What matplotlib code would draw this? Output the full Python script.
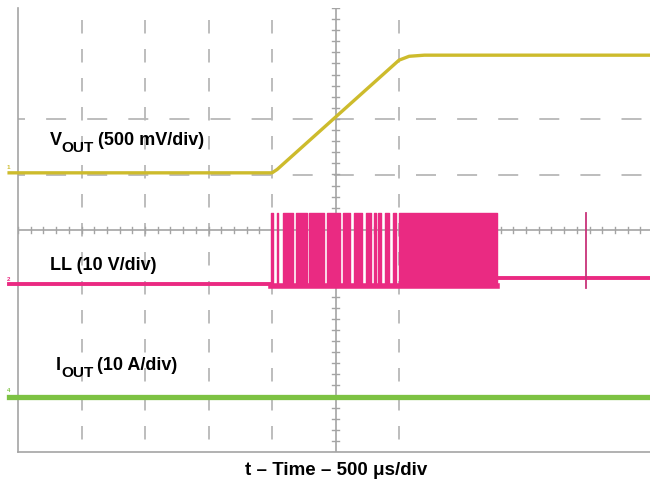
import matplotlib
matplotlib.use('Agg')
import matplotlib.pyplot as plt
import matplotlib.transforms as mtransforms
import numpy as np

plt.rcParams['font.family'] = ['Liberation Sans', 'DejaVu Sans']
plt.rcParams['lines.scale_dashes'] = False

# scope settings: 500 us/div, 10 x 8 divisions
t_div = 500.0
# channel scale (units/div) and position (div)
vout_scale, vout_pos = 0.5, 1.03
ll_scale, ll_pos = 10.0, -1.0
iout_scale, iout_pos = 10.0, -3.0

# VOUT trace (us, V)
vout_t = [-70, 2000, 2040, 3000, 3080, 3200, 5100]
vout_v = [0.0, 0.0, 0.03, 1.015, 1.05, 1.06, 1.06]

# LL switching node (us, V)
ll_low = 0.2
ll_high = 13.1
ll_burst_low = -0.1
ll_after = 1.35
ll_burst_start, ll_burst_end = 1996, 3772
ll_pulses = [(1996, 2004), (2039, 2051), (2087, 2165), (2189, 2276), (2291, 2409),
             (2433, 2535), (2559, 2614), (2646, 2709), (2740, 2780), (2803, 2819),
             (2835, 2862), (2890, 2921), (2953, 2976), (3000, 3772)]
ll_spike_t = 4472
ll_spike_v = (-0.4, 13.1)

# IOUT trace (us, A)
iout_t = [-70, 5100]
iout_a = [0.0, 0.0]

c_vout = '#CDBB2C'
c_ll = '#EA2A82'
c_iout = '#7DC243'
c_grid = '#B8B8B8'
c_axis = '#A4A4A4'

def to_div(v, scale, pos):
    return np.asarray(v, dtype=float) / scale + pos

fig = plt.figure(figsize=(6.5, 4.83), dpi=100)
ax = fig.add_axes([18 / 650, 31 / 483, 635 / 650, 444 / 483])
ax.set_xlim(0, 10 * t_div)
ax.set_ylim(-4, 4)
ax.set_xticks([])
ax.set_yticks([])
for s in ['top', 'right']:
    ax.spines[s].set_visible(False)
for s in ['left', 'bottom']:
    ax.spines[s].set_color(c_axis)
    ax.spines[s].set_linewidth(1.2)

# dashed graticule
px = 0.72
vdash = (17 * px, (13.5 * px, 15.5 * px))
hdash = (13 * px, (20 * px, 21.1 * px))
for d in [1, 2, 3, 4, 6]:
    ax.plot([d * t_div, d * t_div], [4, -4], color=c_grid, lw=1.3, linestyle=vdash, zorder=1)
for d in [2, 1]:
    ax.plot([0, 10 * t_div], [d, d], color=c_grid, lw=1.3, linestyle=hdash, zorder=1)

# center cross with minor ticks
ax.axvline(5 * t_div, color=c_axis, lw=1.2, zorder=1)
ax.axhline(0, color=c_axis, lw=1.2, zorder=1)
for yy in np.arange(-4, 4.01, 0.2):
    ax.plot([5 * t_div - 24, 5 * t_div + 24], [yy, yy], color=c_axis, lw=1.0, zorder=1)
for xx in np.arange(0, 10 * t_div + 1, t_div / 5):
    ax.plot([xx, xx], [-0.055, 0.055], color=c_axis, lw=1.0, zorder=1)

# VOUT
ax.plot(vout_t, to_div(vout_v, vout_scale, vout_pos), color=c_vout, lw=2.4,
        clip_on=False, zorder=3, solid_joinstyle='round')

# LL
ax.plot([-70, ll_burst_start], to_div([ll_low, ll_low], ll_scale, ll_pos),
        color=c_ll, lw=2.8, clip_on=False, zorder=3)
ax.plot([ll_burst_start, ll_burst_end], to_div([ll_burst_low, ll_burst_low], ll_scale, ll_pos),
        color=c_ll, lw=4.0, zorder=3)
ax.plot([ll_burst_end, 5100], to_div([ll_after, ll_after], ll_scale, ll_pos),
        color=c_ll, lw=2.8, clip_on=False, zorder=3)
lo = to_div(ll_burst_low, ll_scale, ll_pos)
hi = to_div(ll_high, ll_scale, ll_pos)
for t0, t1 in ll_pulses:
    ax.fill_between([t0, t1], lo, hi, color=c_ll, lw=1.0, edgecolor=c_ll, zorder=3)
ax.plot([ll_spike_t, ll_spike_t], to_div(ll_spike_v, ll_scale, ll_pos), color='#C8337A', lw=1.3, zorder=3)

# IOUT
ax.plot(iout_t, to_div(iout_a, iout_scale, iout_pos), color=c_iout, lw=3.8,
        clip_on=False, zorder=3)

# channel markers
for lab, col, pos in [('1', c_vout, vout_pos), ('2', c_ll, ll_pos), ('4', c_iout, iout_pos)]:
    ax.text(-75, pos + 0.06, lab, color=col, fontsize=4.5, fontweight='bold',
            ha='center', va='bottom', clip_on=False)

# trace labels, subscripts placed by hand
fs = 13
renderer = fig.canvas.get_renderer()

def label(x, y, main, sub, rest):
    t = ax.text(x, y, main, fontsize=fs, fontweight='bold', ha='left', va='baseline')
    if not sub:
        return
    w = t.get_window_extent(renderer).width
    tr = mtransforms.offset_copy(ax.transData, fig=fig, x=w, y=-7, units='dots')
    s = ax.text(x, y, sub, fontsize=fs * 0.85, fontweight='bold', ha='left',
                va='baseline', transform=tr)
    w2 = s.get_window_extent(renderer).width
    tr2 = mtransforms.offset_copy(ax.transData, fig=fig, x=w + w2 + 4, y=0, units='dots')
    ax.text(x, y, rest, fontsize=fs, fontweight='bold', ha='left', va='baseline', transform=tr2)

label(0.5 * t_div, 1.54, 'V', 'OUT', '(500 mV/div)')
label(0.5 * t_div, -0.72, 'LL (10 V/div)', '', '')
label(0.6 * t_div, -2.53, 'I', 'OUT', '(10 A/div)')

fig.text(336 / 650, 8 / 483, 't – Time – 500 μs/div', fontsize=13.5,
         fontweight='bold', ha='center', va='baseline')

fig.savefig('out.png', dpi=100)
